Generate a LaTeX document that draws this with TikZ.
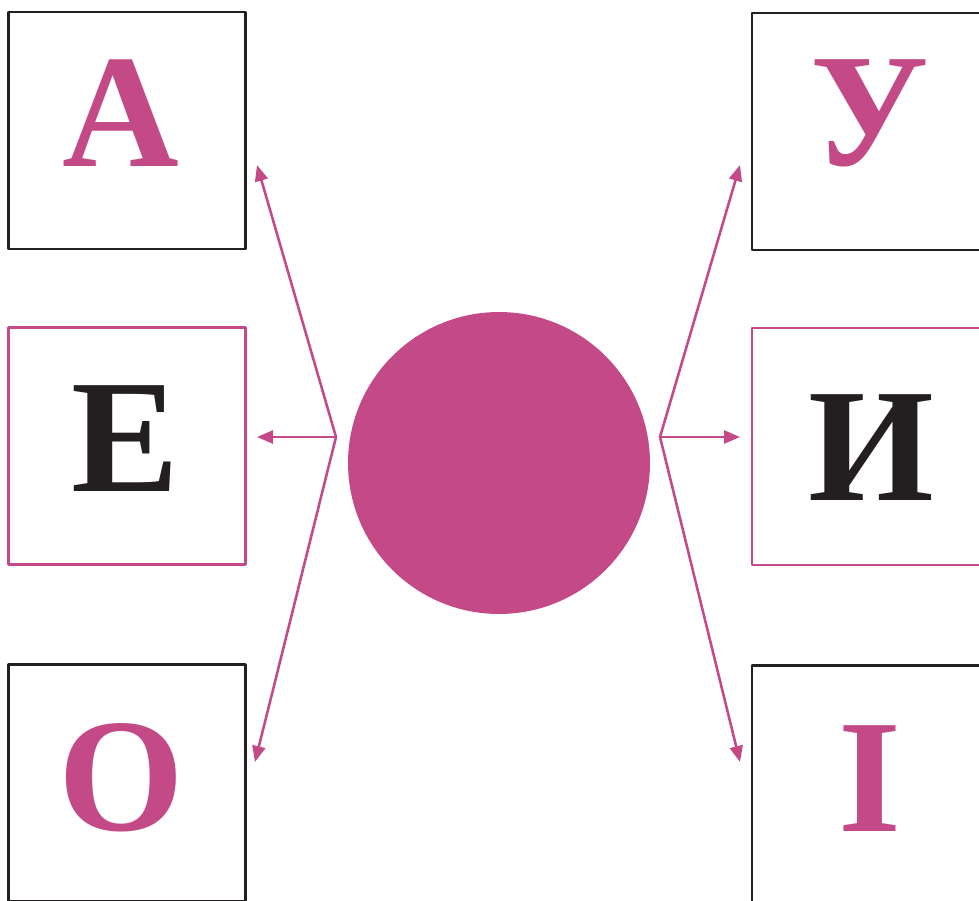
\documentclass[tikz,border=0pt]{standalone}
\usepackage{fontspec}
\setmainfont{Liberation Serif}
\usetikzlibrary{arrows.meta}
\definecolor{vowel}{RGB}{196,74,135}
\definecolor{ink}{RGB}{35,31,32}
\tikzset{
  card/.style={draw=#1, line width=1.2pt, minimum width=4.74cm, minimum height=4.74cm, inner sep=0pt},
  letter/.style={text=#1, font=\bfseries\fontsize{92}{92}\selectfont, anchor=base, inner sep=0pt},
  link/.style={vowel, line width=1.45pt, -{Triangle[length=0.32cm,width=0.26cm]}}
}
\begin{document}
\begin{tikzpicture}[x=0.02cm, y=-0.02cm, line join=round]
  \useasboundingbox (0,0) rectangle (979,900);
  \clip (0,0) rectangle (979,900);
  % cards
  \node[card=ink]   (boxA) at (127,130.5) {};
  \node[card=vowel] (boxE) at (127,446) {};
  \node[card=ink]   (boxO) at (127,783) {};
  \node[card=ink]   (boxU) at (870.5,131.5) {};
  \node[card=vowel] (boxY) at (870.5,446.5) {};
  \node[card=ink]   (boxI) at (870.5,784) {};
  % letters
  \node[letter=vowel] (lA) at (121,166) {А};
  \node[letter=ink]   (lE) at (125,491) {Е};
  \node[letter=vowel] (lO) at (121,830) {О};
  \node[letter=vowel] (lU) at (870,165) {У};
  \node[letter=ink]   (lY) at (871,500) {И};
  \node[letter=vowel] (lI) at (870,831) {І};
  % sound
  \node[circle, fill=vowel, minimum size=6.04cm, inner sep=0pt] (sound) at (499,463) {};
  \coordinate (hubL) at (336,437);
  \coordinate (hubR) at (660,437);
  \coordinate (tA) at (257,165);
  \coordinate (tE) at (257,437);
  \coordinate (tO) at (255,762);
  \coordinate (tU) at (740,165);
  \coordinate (tY) at (740,437);
  \coordinate (tI) at (740,762);
  \foreach \t in {tA,tE,tO} \draw[link] (hubL) -- (\t);
  \foreach \t in {tU,tY,tI} \draw[link] (hubR) -- (\t);
\end{tikzpicture}
\end{document}
